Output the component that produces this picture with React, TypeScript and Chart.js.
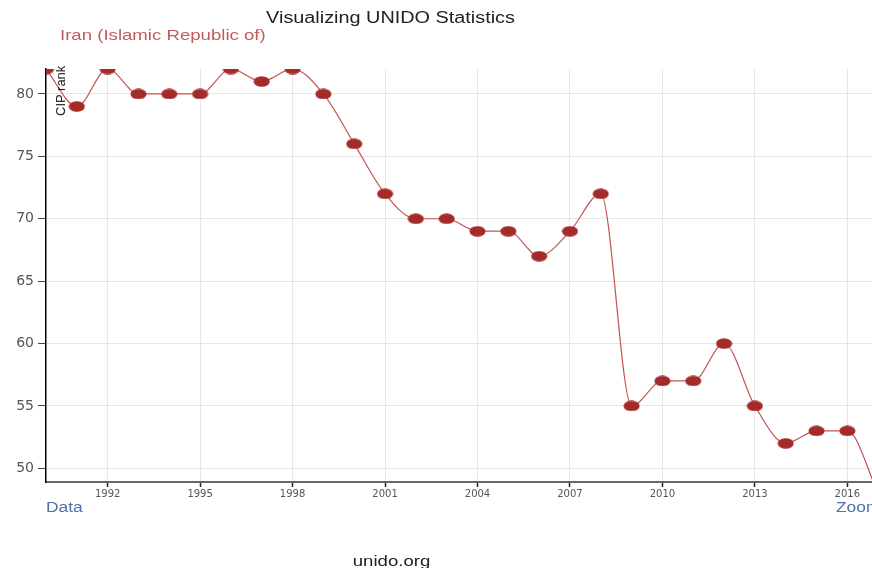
import React, { useEffect, useRef } from "react";
import { Chart, registerables } from "chart.js";

Chart.register(...registerables);

const years = [1990, 1991, 1992, 1993, 1994, 1995, 1996, 1997, 1998, 1999, 2000, 2001, 2002, 2003, 2004, 2005, 2006, 2007, 2008, 2009, 2010, 2011, 2012, 2013, 2014, 2015, 2016, 2017];
const cipRank = [82, 79, 82, 80, 80, 80, 82, 81, 82, 80, 76, 72, 70, 70, 69, 69, 67, 69, 72, 55, 57, 57, 60, 55, 52, 53, 53, 48];
const xTicks = [1992, 1995, 1998, 2001, 2004, 2007, 2010, 2013, 2016];
const yTicks = [50, 55, 60, 65, 70, 75, 80];
const titleText = "Visualizing UNIDO Statistics";
const seriesName = "Iran (Islamic Republic of)";
const yLabel = "CIP rank";

const FONT = "'Liberation Sans', Arial, sans-serif";
const TICKFONT = "'DejaVu Sans', sans-serif";

function makePoint(): HTMLCanvasElement {
  const c = document.createElement("canvas");
  c.width = 17;
  c.height = 11;
  const ctx = c.getContext("2d")!;
  ctx.fillStyle = "#a52a2a";
  ctx.beginPath();
  ctx.ellipse(8.5, 5.5, 8.0, 5.3, 0, 0, Math.PI * 2);
  ctx.fill();
  return c;
}

export default function App() {
  const ref = useRef<HTMLCanvasElement>(null);
  useEffect(() => {
    if (!ref.current) return;
    const pt = makePoint();
    const chart = new Chart(ref.current, {
      type: "line",
      data: {
        datasets: [
          {
            label: seriesName,
            data: years.map((y, i) => ({ x: y, y: cipRank[i] })),
            borderColor: "#c45454",
            borderWidth: 1.2,
            cubicInterpolationMode: "monotone",
            pointStyle: pt as any,
            pointRadius: 8,
            pointBackgroundColor: "#a52a2a",
            pointBorderWidth: 0,
          },
        ],
      },
      options: {
        animation: false,
        responsive: false,
        maintainAspectRatio: false,
        layout: { autoPadding: false, padding: { top: 69, left: 0, right: 0, bottom: 66 } },
        plugins: { legend: { display: false }, title: { display: false }, tooltip: { enabled: false } },
        scales: {
          x: {
            type: "linear",
            min: 1990,
            max: 2016.8,
            afterBuildTicks: (s: any) => {
              s.ticks = xTicks.map((v) => ({ value: v }));
            },
            afterFit: (s: any) => {
              s.height = 20;
              s.paddingLeft = 0;
              s.paddingRight = 0;
            },
            grid: { color: "#e6e6e6", tickColor: "#222", tickLength: 5, lineWidth: 1, tickWidth: 1.5 },
            border: { color: "#666", width: 2 },
            ticks: {
              font: { family: TICKFONT, size: 10 },
              color: "#555",
              padding: 1,
              autoSkip: false,
              maxRotation: 0,
              callback: (v: any) => String(v),
            },
          },
          y: {
            type: "linear",
            min: 48.9,
            max: 82,
            afterBuildTicks: (s: any) => {
              s.ticks = yTicks.map((v) => ({ value: v }));
            },
            afterFit: (s: any) => {
              s.width = 46;
              s.paddingTop = 0;
              s.paddingBottom = 0;
            },
            grid: { color: "#e6e6e6", tickColor: "#444", tickLength: 8, lineWidth: 1 },
            border: { color: "#000", width: 1.5 },
            ticks: {
              font: { family: TICKFONT, size: 14 },
              color: "#555",
              padding: 4,
            },
          },
        },
      },
    });
    return () => chart.destroy();
  }, []);

  const base: React.CSSProperties = { position: "absolute", fontFamily: FONT, whiteSpace: "nowrap", lineHeight: 1 };
  const sx = "scaleX(1.24)";
  return (
    <div style={{ position: "fixed", left: 0, top: 0, width: 872, height: 568, overflow: "hidden", background: "#fff" }}>
      <canvas ref={ref} width={872} height={568} style={{ position: "absolute", left: 0, top: 0, width: 872, height: 568 }} />
      <div style={{ ...base, left: 0, width: 781, top: 10, textAlign: "center", fontSize: 16, color: "#222", transform: sx, transformOrigin: "390.5px 0" }}>{titleText}</div>
      <div style={{ ...base, left: 60, top: 27, fontSize: 15, color: "#c45a5a", transform: sx, transformOrigin: "0 0" }}>{seriesName}</div>
      <div style={{ ...base, left: 54, top: 116, fontSize: 13, color: "#222", transform: "rotate(-90deg)", transformOrigin: "0 0" }}>{yLabel}</div>
      <div style={{ ...base, left: 46, top: 500, fontSize: 14, color: "#4e6fa8", transform: sx, transformOrigin: "0 0" }}>Data</div>
      <div style={{ ...base, left: 836, top: 500, fontSize: 14, color: "#4e6fa8", transform: sx, transformOrigin: "0 0" }}>Zoom</div>
      <div style={{ ...base, left: 0, width: 783, top: 553, textAlign: "center", fontSize: 15, color: "#222", transform: sx, transformOrigin: "391.5px 0" }}>unido.org</div>
    </div>
  );
}
